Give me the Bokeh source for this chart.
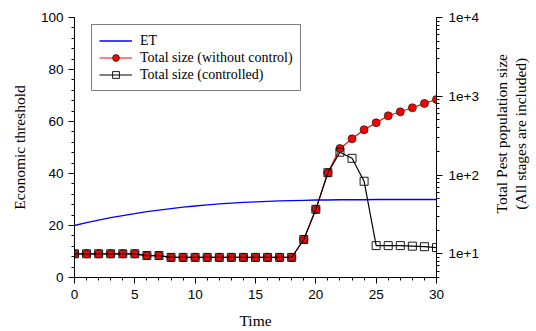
import math
from bokeh.plotting import figure
from bokeh.layouts import row
from bokeh.models import (Range1d, LogScale, LogAxis, SingleIntervalTicker, LogTicker,
                          CustomJSTickFormatter, Legend, LegendItem)
from bokeh.core.properties import value
from bokeh.embed import file_html
from bokeh.resources import INLINE

time = list(range(31))
et = [20.0, 21.1, 22.1, 23.0, 23.8, 24.6, 25.3, 25.9, 26.5, 27.1, 27.5, 27.9, 28.3, 28.6,
      28.9, 29.1, 29.3, 29.5, 29.6, 29.7, 29.8, 29.8, 29.9, 29.9, 29.9, 30.0, 30.0, 30.0,
      30.0, 30.0, 30.0]
total_without_control = [10, 10, 10, 10, 10, 10, 9.5, 9.5, 9.0, 9.0, 9.0, 9.0, 9.0, 9.0,
                         9.0, 9.0, 9.0, 9.0, 9.0, 15.2, 36.7, 107, 217, 288, 376, 461,
                         565, 635, 714, 811, 910]
total_controlled = [10, 10, 10, 10, 10, 10, 9.5, 9.5, 9.0, 9.0, 9.0, 9.0, 9.0, 9.0,
                    9.0, 9.0, 9.0, 9.0, 9.0, 15.2, 36.7, 107, 195, 163, 83.3, 12.7,
                    12.7, 12.7, 12.5, 12.3, 12.0]
right_axis_title_lines = ["Total Pest population size", "(All stages are included)"]

SERIF = "Liberation Serif"
SANS = "Liberation Sans"
H = 331

p = figure(width=484, height=H, output_backend="svg", toolbar_location=None,
           x_range=Range1d(0, 30), y_range=Range1d(0, 100),
           min_border_left=74, min_border_right=48, min_border_top=17, min_border_bottom=54)
p.extra_y_ranges = {"pest": Range1d(5, 10000)}
p.extra_y_scales = {"pest": LogScale()}
p.grid.visible = False
p.outline_line_color = None
p.background_fill_color = "white"
p.border_fill_color = "white"

def style_axis(ax):
    ax.axis_line_color = "black"
    ax.major_tick_line_color = "black"
    ax.minor_tick_line_color = "black"
    ax.major_tick_out = 6
    ax.major_tick_in = 0
    ax.minor_tick_out = 3
    ax.minor_tick_in = 0
    ax.major_label_text_font = SANS
    ax.major_label_text_font_size = "13.5px"
    ax.major_label_text_color = "black"
    ax.axis_label_text_font = SERIF
    ax.axis_label_text_font_size = "15.5px"
    ax.axis_label_text_font_style = "normal"
    ax.axis_label_text_color = "black"

xa = p.xaxis[0]
xa.ticker = SingleIntervalTicker(interval=5, num_minor_ticks=5)
xa.axis_label = "Time"
style_axis(xa)
xa.major_label_standoff = 6
xa.axis_label_standoff = 10

ya = p.yaxis[0]
ya.ticker = SingleIntervalTicker(interval=20, num_minor_ticks=5)
ya.axis_label = "Economic threshold"
style_axis(ya)
ya.major_label_standoff = 5
ya.axis_label_standoff = 10

ra = LogAxis(y_range_name="pest", ticker=LogTicker(num_minor_ticks=10))
ra.formatter = CustomJSTickFormatter(code="return tick.toExponential();")
style_axis(ra)
ra.major_label_standoff = 6
p.add_layout(ra, "right")

l_et = p.line(time, et, line_color="blue", line_width=1.3)
l_wc = p.line(time, total_without_control, y_range_name="pest", line_color="red", line_width=1.2)
s_wc = p.scatter(time, total_without_control, y_range_name="pest", marker="circle", size=8,
                 fill_color="red", line_color="#222222", line_width=0.8)
l_c = p.line(time, total_controlled, y_range_name="pest", line_color="black", line_width=1.2)
s_c = p.scatter(time, total_controlled, y_range_name="pest", marker="square", size=8,
                fill_color=None, line_color="black", line_width=0.9)

legend = Legend(items=[
    LegendItem(label="ET", renderers=[l_et]),
    LegendItem(label="Total size (without control)", renderers=[l_wc, s_wc]),
    LegendItem(label="Total size (controlled)", renderers=[l_c, s_c]),
], location=(17, 186))
legend.label_text_font = SERIF
legend.label_text_font_size = "14px"
legend.label_text_color = "black"
legend.label_height = 17
legend.glyph_height = 17
legend.glyph_width = 33
legend.label_standoff = 8
legend.spacing = 0
legend.padding = 7
legend.margin = 0
legend.border_line_color = "black"
legend.border_line_width = 1
legend.background_fill_alpha = 1
p.add_layout(legend, "center")

# side panel holding the right axis title (rotated, reading bottom-to-top)
p2 = figure(width=52, height=H, output_backend="svg", toolbar_location=None,
            x_range=Range1d(0, 52), y_range=Range1d(0, H),
            x_axis_type=None, y_axis_type=None, min_border=0)
p2.grid.visible = False
p2.outline_line_color = None
p2.text(x=[16.5, 36], y=[H - 148, H - 148], text=right_axis_title_lines,
        angle=math.pi / 2, text_align="center", text_baseline="middle",
        text_font=value(SERIF), text_font_size=value("15.5px"), text_color="black")

layout = row(p, p2, spacing=0)
open("out.html", "w").write(file_html(layout, INLINE))
